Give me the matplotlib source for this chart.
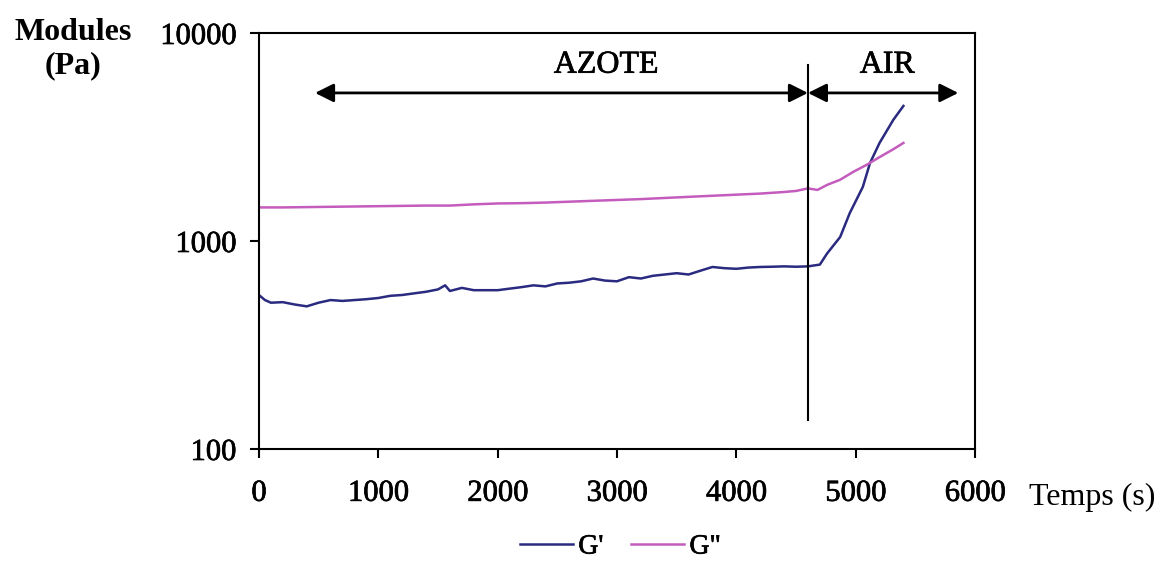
import matplotlib
matplotlib.use("Agg")
import matplotlib.pyplot as plt
import matplotlib.patheffects as pe

# G' (storage modulus) — time (s), Pa
t_g1 = [0, 50, 100, 200, 300, 400, 500, 600, 700, 800, 900, 1000, 1100, 1200, 1300,
        1400, 1500, 1560, 1600, 1700, 1800, 1900, 2000, 2100, 2200, 2300, 2400, 2500,
        2600, 2700, 2800, 2900, 3000, 3100, 3200, 3300, 3400, 3500, 3600, 3700, 3800,
        3900, 4000, 4100, 4200, 4300, 4400, 4500, 4600, 4700, 4760, 4870, 4950, 5060,
        5120, 5200, 5315, 5400]
g1 = [550, 520, 505, 508, 495, 485, 505, 520, 515, 520, 525, 532, 545, 550, 560,
      570, 585, 612, 575, 595, 580, 580, 580, 590, 600, 612, 605, 625,
      630, 640, 660, 645, 640, 670, 660, 680, 690, 700, 690, 720, 750,
      740, 735, 745, 750, 752, 755, 752, 755, 770, 870, 1045, 1360, 1820,
      2370, 2960, 3820, 4460]

# G'' (loss modulus)
t_g2 = [0, 200, 400, 600, 800, 1000, 1200, 1400, 1600, 1800, 2000, 2200, 2400, 2600,
        2800, 3000, 3200, 3400, 3600, 3800, 4000, 4200, 4400, 4500, 4600, 4680, 4760,
        4870, 4980, 5090, 5200, 5310, 5400]
g2 = [1450, 1450, 1455, 1460, 1465, 1470, 1475, 1480, 1480, 1500, 1515, 1520, 1530, 1545,
      1560, 1575, 1590, 1610, 1630, 1650, 1670, 1690, 1720, 1740, 1790, 1760, 1860,
      1970, 2150, 2320, 2530, 2750, 2960]

x_ticks = [0, 1000, 2000, 3000, 4000, 5000, 6000]
y_ticks = [100, 1000, 10000]
t_switch = 4600          # nitrogen -> air
azote_start, air_end = 470, 5860

plt.rcParams["font.family"] = ["Liberation Serif", "DejaVu Serif"]
heavy = [pe.withStroke(linewidth=0.5, foreground="black")]   # scanned text looks heavier

fig = plt.figure(figsize=(11.75, 5.62), dpi=100)
ax = fig.add_axes([0.2204, 0.2011, 0.6094, 0.7402])

ax.plot(t_g1, g1, color="#2a2a80", lw=1.8, label="G'")
ax.plot(t_g2, g2, color="#c45cbe", lw=1.8, label='G"')

ax.set_yscale("log")
ax.set_xlim(0, 6000); ax.set_ylim(100, 10000)
ax.set_xticks(x_ticks); ax.set_xticklabels([str(v) for v in x_ticks])
ax.set_yticks(y_ticks); ax.set_yticklabels([str(v) for v in y_ticks])
ax.minorticks_off()
ax.tick_params(axis="both", direction="out", length=6.5, width=1.5, labelsize=22)
ax.tick_params(axis="x", pad=15)
ax.tick_params(axis="y", pad=10)
for lab in ax.get_xticklabels() + ax.get_yticklabels():
    lab.set_path_effects(heavy)
for s in ax.spines.values():
    s.set_linewidth(1.5)

# switch line + phase arrows
ax.plot([t_switch, t_switch], [138, 7000], color="k", lw=1.5)
arr = dict(arrowstyle="<|-|>", color="k", lw=2, mutation_scale=28, shrinkA=0, shrinkB=0)
ax.annotate("", xy=(azote_start, 5150), xytext=(t_switch, 5150), arrowprops=arr)
ax.annotate("", xy=(t_switch, 5150), xytext=(air_end, 5150), arrowprops=arr)
ax.text(2910, 7000, "AZOTE", fontsize=23, ha="center", va="center", path_effects=heavy)
ax.text(5265, 7000, "AIR", fontsize=23, ha="center", va="center", path_effects=heavy)

fig.text(0.062, 0.913, "Modules\n(Pa)", fontsize=23, fontweight="bold", ha="center",
         va="center", linespacing=1.2)
fig.text(0.876, 0.115, "Temps (s)", fontsize=23, ha="left", va="center")

leg = fig.legend(loc="center", bbox_to_anchor=(0.528, 0.027), ncol=2, frameon=False,
                 prop={"size": 20}, handlelength=1.9, handletextpad=0.2,
                 columnspacing=1.0)
for txt in leg.get_texts():
    txt.set_path_effects(heavy)

fig.savefig("out.png", dpi=100)
